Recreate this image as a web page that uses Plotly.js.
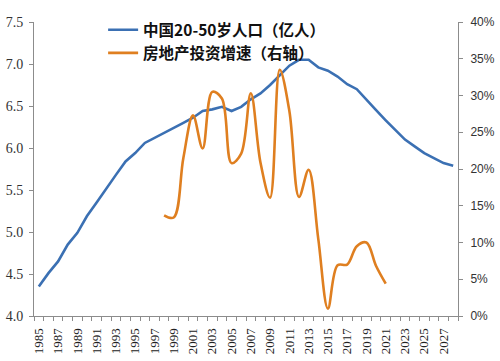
<!DOCTYPE html>
<html><head><meta charset="utf-8">
<script src="https://cdn.plot.ly/plotly-3.0.1.min.js"></script>
<style>html,body{margin:0;padding:0;background:#fff}#c{width:500px;height:361px}</style>
</head><body><div id="c"></div>
<script>
const years = [];
for (let y = 1985; y <= 2028; y++) years.push(y);
const popYears = years;
const population = [4.35,4.51,4.65,4.85,4.99,5.19,5.35,5.52,5.68,5.84,5.94,6.06,6.12,6.19,6.25,6.30,6.36,6.44,6.46,6.49,6.44,6.49,6.58,6.65,6.75,6.87,6.98,7.05,7.05,6.96,6.92,6.85,6.76,6.70,6.57,6.45,6.33,6.21,6.10,6.02,5.94,5.88,5.82,5.79];
const invYears = [1998,1999,2000,2001,2002,2003,2004,2005,2006,2007,2008,2009,2010,2011,2012,2013,2014,2015,2016,2017,2018,2019,2020,2021];
const investGrowth = [13.7,13.4,21.5,27.3,22.8,30.5,29.6,20.8,22.1,30.3,20.9,16.1,33.5,27.9,16.2,19.9,10.5,1.0,6.9,7.0,9.5,10.0,6.8,4.4];
const tickYears = [];
for (let y = 1985; y <= 2027; y += 2) tickYears.push(y);
const names = ['中国20-50岁人口（亿人）', '房地产投资增速（右轴）'];

const axisColor = '#8c8c8c';
const legFont = {family: '"Noto Sans CJK SC", sans-serif', size: 15.5, color: '#111', weight: 'bold'};
const traces = [
  {x: popYears, y: population, name: names[0], type: 'scatter', mode: 'lines',
   line: {color: '#3b70b3', width: 2.6}, yaxis: 'y'},
  {x: invYears, y: investGrowth, name: names[1], type: 'scatter', mode: 'lines',
   line: {color: '#df7f20', width: 2.6, shape: 'spline', smoothing: 1}, yaxis: 'y2'}
];
const layout = {
  width: 500, height: 361,
  margin: {l: 34, r: 42, t: 22, b: 45},
  paper_bgcolor: '#fff', plot_bgcolor: '#fff',
  showlegend: true,
  legend: {x: 0.163, y: 1.03, xanchor: 'left', yanchor: 'top', bgcolor: 'rgba(0,0,0,0)',
    font: legFont, itemwidth: 30, tracegroupgap: 0},
  xaxis: {
    range: [1984.5, 2028.5], tickmode: 'array', tickvals: tickYears, ticktext: tickYears.map(String),
    tickangle: -90, ticks: '', showgrid: false, zeroline: false,
    showline: true, linecolor: axisColor, linewidth: 1, ticklabelstandoff: 6,
    tickfont: {family: '"Liberation Serif", serif', size: 13, color: '#222'},
    minor: {ticks: 'outside', tick0: 1984.5, dtick: 1, ticklen: 4, tickcolor: axisColor, showgrid: false}
  },
  yaxis: {
    range: [4, 7.5], dtick: 0.5, tick0: 4, tickformat: '.1f', ticks: 'outside', ticklen: 4,
    tickcolor: axisColor, showgrid: false, zeroline: false, showline: true, linecolor: axisColor,
    ticklabelstandoff: 3,
    tickfont: {family: '"Liberation Serif", serif', size: 14, color: '#333'}
  },
  yaxis2: {
    range: [0, 40], dtick: 5, tick0: 0, ticksuffix: '%', overlaying: 'y', side: 'right',
    ticks: 'outside', ticklen: 4, tickcolor: axisColor, showgrid: false, zeroline: false,
    showline: true, linecolor: axisColor, ticklabelstandoff: 5,
    tickfont: {family: '"Liberation Sans", sans-serif', size: 12, color: '#333'}
  }
};
Plotly.newPlot('c', traces, layout, {staticPlot: true, displayModeBar: false});
</script>
</body></html>
